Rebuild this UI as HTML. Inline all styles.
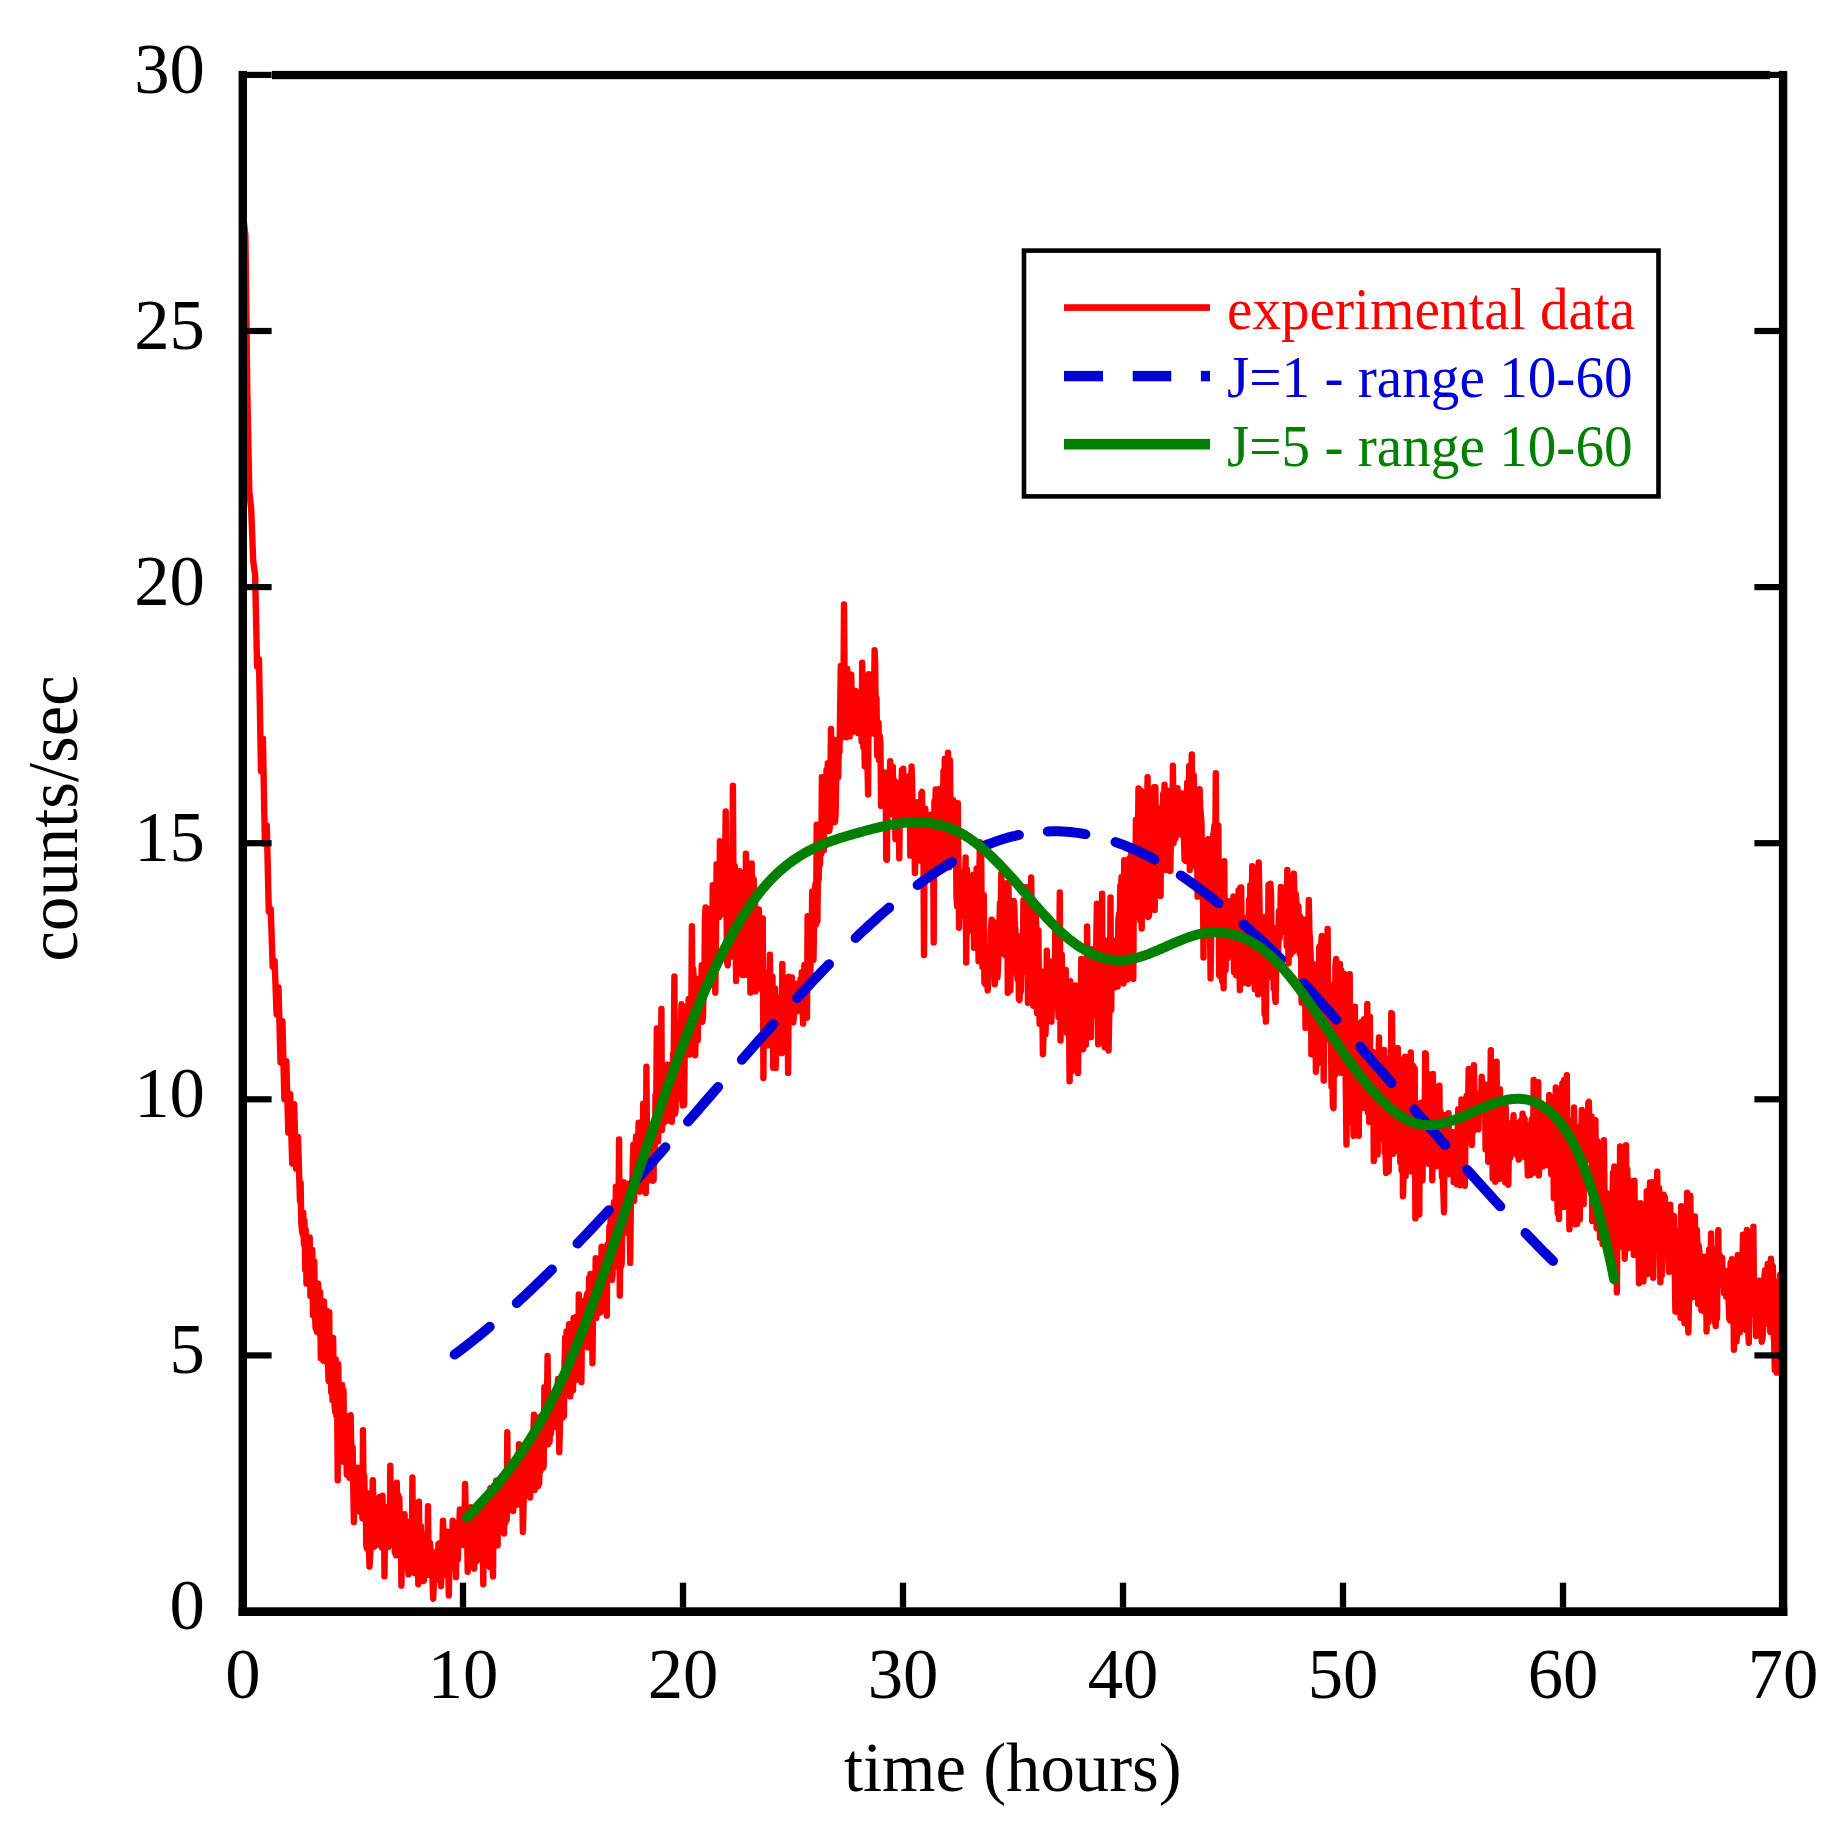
<!DOCTYPE html>
<html><head><meta charset="utf-8"><title>counts/sec vs time (hours)</title>
<style>
html,body{margin:0;padding:0;background:#fff;}
body{width:1842px;height:1833px;overflow:hidden;}
svg{display:block;font-family:"Liberation Serif","Times New Roman",Times,serif;}
</style></head><body>
<svg width="1842" height="1833" viewBox="0 0 1842 1833">
<rect width="1842" height="1833" fill="#fff"/>
<path d="M243.4,218.2 245.4,235.6 247.3,391.2 249.3,491.4 251.2,509.4 253.2,561.2 255.1,574.8 257.1,666.7 259.0,659.1 261.0,771.1 262.9,738.6 264.9,844.0 266.8,825.5 268.8,911.6 270.7,908.8 272.7,966.7 274.6,960.7 276.6,1014.3 278.5,987.5 280.5,1062.5 282.4,1021.3 284.4,1099.1 286.3,1061.1 288.3,1132.6 290.2,1094.1 292.2,1163.5 294.1,1104.2 296.1,1168.6 298.0,1136.9 300.0,1201.1 300.6,1182.9 301.3,1222.9 301.9,1229.8 302.6,1234.2 303.2,1212.8 303.9,1244.4 304.5,1220.6 305.2,1269.7 305.8,1230.0 306.5,1283.6 307.1,1240.1 307.8,1281.0 308.4,1253.0 309.1,1284.2 309.7,1237.4 310.4,1295.9 311.0,1261.3 311.7,1295.8 312.3,1250.0 313.0,1315.3 313.6,1262.0 314.3,1261.3 314.9,1311.1 315.6,1328.0 316.2,1290.1 316.9,1331.8 317.5,1290.6 318.2,1283.7 318.8,1298.7 319.5,1334.3 320.1,1292.0 320.8,1358.3 321.4,1307.2 322.1,1341.2 322.7,1317.9 323.4,1360.6 324.0,1301.5 324.7,1350.0 325.3,1359.6 326.0,1358.2 326.6,1310.8 327.3,1363.2 327.9,1362.2 328.6,1381.0 329.2,1312.2 329.9,1381.2 330.5,1341.0 331.2,1392.1 331.8,1338.1 332.5,1400.2 333.1,1338.0 333.8,1384.2 334.4,1403.3 335.1,1411.7 335.7,1359.4 336.4,1415.7 337.0,1375.4 337.7,1480.2 338.3,1364.1 339.0,1428.2 339.6,1388.3 340.3,1424.3 340.9,1399.2 341.6,1446.0 342.2,1385.2 342.9,1461.6 343.5,1390.1 344.2,1447.6 344.8,1415.4 345.5,1449.6 346.1,1415.9 346.8,1474.7 347.4,1416.2 348.1,1463.4 348.7,1437.1 349.4,1477.7 350.0,1426.1 350.7,1415.3 351.3,1446.6 352.0,1474.2 352.6,1447.1 353.3,1488.8 353.9,1522.1 354.6,1482.7 355.2,1467.3 355.9,1470.5 356.5,1470.7 357.2,1498.3 357.8,1467.7 358.5,1498.2 359.1,1476.0 359.8,1500.2 360.4,1512.4 361.1,1480.1 361.7,1488.9 362.4,1518.2 363.0,1430.3 363.7,1513.1 364.3,1476.0 365.0,1518.6 365.6,1496.9 366.3,1545.6 366.9,1548.6 367.6,1530.4 368.2,1493.4 368.9,1546.7 369.5,1566.6 370.2,1553.8 370.8,1549.2 371.5,1538.7 372.1,1505.0 372.8,1480.1 373.4,1502.3 374.1,1546.8 374.7,1500.0 375.4,1537.7 376.0,1516.9 376.7,1536.5 377.3,1505.3 378.0,1544.5 378.6,1500.4 379.3,1497.1 379.9,1538.4 380.6,1543.5 381.2,1513.0 381.9,1547.5 382.5,1495.8 383.2,1548.4 383.8,1514.7 384.5,1576.4 385.1,1513.0 385.8,1546.1 386.4,1516.0 387.1,1545.6 387.7,1507.0 388.4,1547.1 389.0,1544.7 389.7,1544.6 390.3,1465.7 391.0,1533.9 391.6,1495.4 392.3,1544.7 392.9,1495.8 393.6,1503.0 394.2,1509.0 394.9,1552.7 395.5,1549.5 396.2,1555.3 396.8,1482.7 397.5,1554.3 398.1,1495.1 398.8,1546.8 399.4,1498.1 400.1,1556.1 400.7,1520.7 401.4,1585.6 402.0,1549.1 402.7,1553.1 403.3,1516.1 404.0,1519.9 404.6,1514.2 405.3,1563.8 405.9,1533.6 406.6,1556.1 407.2,1521.6 407.9,1566.8 408.5,1574.4 409.2,1565.4 409.8,1540.2 410.5,1563.6 411.1,1523.6 411.8,1557.2 412.4,1477.4 413.1,1564.3 413.7,1524.5 414.4,1573.0 415.0,1542.5 415.7,1568.8 416.3,1527.8 417.0,1562.2 417.6,1531.7 418.3,1584.3 418.9,1501.7 419.6,1564.3 420.2,1563.8 420.9,1526.3 421.5,1542.1 422.2,1567.3 422.8,1539.1 423.5,1581.0 424.1,1580.2 424.8,1539.4 425.4,1535.2 426.1,1565.5 426.7,1541.4 427.4,1567.1 428.0,1506.2 428.7,1574.7 429.3,1553.5 430.0,1542.9 430.6,1549.7 431.3,1574.5 431.9,1557.3 432.6,1582.3 433.2,1598.7 433.9,1582.1 434.5,1560.7 435.2,1579.2 435.8,1556.3 436.5,1575.9 437.1,1550.9 437.8,1579.3 438.4,1544.1 439.1,1568.5 439.7,1543.3 440.4,1566.6 441.0,1586.2 441.7,1567.5 442.3,1548.9 443.0,1520.6 443.6,1542.9 444.3,1544.8 444.9,1536.9 445.6,1575.0 446.2,1568.7 446.9,1568.4 447.5,1531.7 448.2,1560.9 448.8,1595.4 449.5,1557.6 450.1,1541.2 450.8,1567.8 451.4,1537.7 452.1,1556.9 452.7,1520.6 453.4,1551.9 454.0,1529.5 454.7,1554.0 455.3,1532.8 456.0,1577.1 456.6,1524.7 457.3,1528.8 457.9,1559.5 458.6,1522.4 459.2,1527.5 459.9,1509.5 460.5,1519.2 461.2,1542.2 461.8,1520.9 462.5,1545.1 463.1,1524.7 463.8,1520.0 464.4,1523.0 465.1,1484.0 465.7,1512.1 466.4,1544.2 467.0,1525.0 467.7,1571.8 468.3,1520.6 469.0,1544.9 469.6,1513.6 470.3,1562.3 470.9,1507.2 471.6,1551.9 472.2,1508.2 472.9,1560.7 473.5,1512.2 474.2,1568.6 474.8,1518.2 475.5,1560.6 476.1,1514.1 476.8,1561.0 477.4,1507.3 478.1,1545.0 478.7,1503.5 479.4,1544.8 480.0,1514.9 480.7,1510.0 481.3,1502.2 482.0,1545.5 482.6,1506.4 483.3,1584.3 483.9,1522.3 484.6,1515.7 485.2,1561.7 485.9,1546.6 486.5,1498.0 487.2,1545.9 487.8,1548.8 488.5,1512.5 489.1,1517.6 489.8,1567.0 490.4,1488.2 491.1,1563.4 491.7,1510.4 492.4,1557.9 493.0,1576.4 493.7,1504.9 494.3,1492.0 495.0,1531.3 495.6,1507.1 496.3,1480.7 496.9,1497.7 497.6,1545.4 498.2,1493.6 498.9,1523.8 499.5,1490.1 500.2,1522.7 500.8,1519.5 501.5,1517.2 502.1,1488.2 502.8,1518.3 503.4,1487.8 504.1,1533.5 504.7,1473.3 505.4,1522.5 506.0,1485.7 506.7,1520.0 507.3,1432.3 508.0,1511.1 508.6,1481.7 509.3,1501.6 509.9,1503.8 510.6,1499.6 511.2,1510.1 511.9,1499.7 512.5,1467.8 513.2,1511.0 513.8,1467.4 514.5,1491.2 515.1,1471.6 515.8,1505.3 516.4,1474.3 517.1,1491.4 517.7,1463.6 518.4,1504.2 519.0,1444.1 519.7,1501.4 520.3,1459.0 521.0,1493.4 521.6,1470.4 522.3,1499.2 522.9,1531.9 523.6,1503.4 524.2,1488.3 524.9,1486.7 525.5,1445.0 526.2,1488.5 526.8,1454.9 527.5,1464.5 528.1,1440.5 528.8,1481.1 529.4,1494.4 530.1,1497.6 530.7,1453.1 531.4,1475.6 532.0,1454.8 532.7,1473.5 533.3,1435.4 534.0,1414.6 534.6,1490.0 535.3,1480.9 535.9,1434.0 536.6,1467.7 537.2,1440.2 537.9,1486.1 538.5,1417.4 539.2,1483.5 539.8,1419.4 540.5,1471.1 541.1,1457.5 541.8,1453.8 542.4,1415.1 543.1,1467.9 543.7,1465.8 544.4,1387.1 545.0,1423.2 545.7,1442.6 546.3,1419.7 547.0,1399.5 547.6,1355.9 548.3,1444.3 548.9,1410.4 549.6,1441.6 550.2,1403.1 550.9,1433.8 551.5,1426.9 552.2,1427.4 552.8,1402.6 553.5,1414.9 554.1,1396.9 554.8,1426.5 555.4,1426.7 556.1,1422.1 556.7,1388.2 557.4,1410.1 558.0,1378.9 558.7,1418.9 559.3,1452.1 560.0,1421.8 560.6,1409.0 561.3,1415.7 561.9,1377.0 562.6,1417.8 563.2,1386.1 563.9,1416.0 564.5,1366.6 565.2,1337.1 565.8,1394.8 566.5,1331.4 567.1,1355.7 567.8,1384.2 568.4,1358.5 569.1,1324.3 569.7,1336.8 570.4,1396.4 571.0,1381.6 571.7,1372.0 572.3,1339.9 573.0,1390.2 573.6,1317.9 574.3,1364.7 574.9,1347.9 575.6,1380.3 576.2,1317.0 576.9,1358.1 577.5,1321.9 578.2,1376.5 578.8,1294.4 579.5,1335.2 580.1,1373.8 580.8,1365.6 581.4,1382.1 582.1,1312.3 582.7,1328.9 583.4,1301.0 584.0,1343.3 584.7,1322.7 585.3,1330.4 586.0,1317.2 586.6,1296.2 587.3,1293.4 587.9,1347.4 588.6,1300.7 589.2,1277.8 589.9,1311.9 590.5,1274.0 591.2,1342.7 591.8,1275.6 592.5,1363.3 593.1,1295.8 593.8,1281.7 594.4,1283.3 595.1,1302.6 595.7,1258.1 596.4,1317.9 597.0,1283.3 597.7,1305.6 598.3,1282.2 599.0,1272.7 599.6,1288.0 600.3,1312.5 600.9,1287.9 601.6,1246.6 602.2,1274.0 602.9,1250.5 603.5,1288.6 604.2,1296.6 604.8,1282.2 605.5,1292.7 606.1,1273.6 606.8,1315.6 607.4,1244.7 608.1,1253.3 608.7,1275.3 609.4,1226.7 610.0,1259.9 610.7,1212.1 611.3,1264.8 612.0,1279.9 612.6,1273.9 613.3,1251.5 613.9,1202.2 614.6,1267.0 615.2,1236.2 615.9,1186.6 616.5,1246.8 617.2,1195.0 617.8,1198.3 618.5,1214.0 619.1,1139.5 619.8,1295.6 620.4,1232.5 621.1,1266.8 621.7,1263.2 622.4,1216.8 623.0,1211.2 623.7,1182.1 624.3,1195.3 625.0,1223.2 625.6,1220.5 626.3,1211.0 626.9,1232.7 627.6,1183.7 628.2,1200.9 628.9,1219.9 629.5,1214.1 630.2,1262.9 630.8,1205.3 631.5,1184.6 632.1,1200.6 632.8,1162.3 633.4,1144.8 634.1,1200.7 634.7,1181.8 635.4,1162.7 636.0,1136.5 636.7,1167.7 637.3,1159.5 638.0,1150.5 638.6,1122.8 639.3,1160.7 639.9,1191.7 640.6,1175.9 641.2,1147.8 641.9,1161.5 642.5,1180.1 643.2,1103.7 643.8,1152.7 644.5,1168.6 645.1,1170.3 645.8,1193.1 646.4,1066.8 647.1,1154.6 647.7,1152.4 648.4,1163.4 649.0,1126.1 649.7,1137.4 650.3,1160.7 651.0,1180.3 651.6,1128.4 652.3,1129.4 652.9,1180.8 653.6,1180.1 654.2,1124.1 654.9,1162.1 655.5,1095.2 656.2,1114.2 656.8,1028.4 657.5,1136.4 658.1,1141.4 658.8,1071.4 659.4,1085.4 660.1,1116.9 660.7,1088.5 661.4,1009.0 662.0,1130.1 662.7,1113.7 663.3,1111.8 664.0,1084.1 664.6,1122.3 665.3,1086.6 665.9,1120.4 666.6,1065.0 667.2,1064.7 667.9,1091.0 668.5,1065.0 669.2,1099.9 669.8,1086.9 670.5,1121.2 671.1,1078.2 671.8,1121.8 672.4,1097.0 673.1,1053.8 673.7,1057.1 674.4,976.4 675.0,1113.8 675.7,1109.4 676.3,1063.1 677.0,1065.4 677.6,1098.6 678.3,1052.6 678.9,1028.0 679.6,1055.3 680.2,1062.4 680.9,1026.4 681.5,1004.3 682.2,1006.5 682.8,1105.5 683.5,1020.8 684.1,1104.9 684.8,1043.0 685.4,1052.0 686.1,1024.7 686.7,1045.1 687.4,1006.2 688.0,1018.5 688.7,998.9 689.3,1054.6 690.0,1021.8 690.6,1000.9 691.3,1008.8 691.9,926.2 692.6,1031.9 693.2,968.9 693.9,980.6 694.5,995.8 695.2,1055.2 695.8,1026.4 696.5,995.5 697.1,1015.0 697.8,1040.3 698.4,984.8 699.1,978.8 699.7,1018.5 700.4,996.9 701.0,999.2 701.7,965.3 702.3,1021.7 703.0,1017.0 703.6,986.6 704.3,987.3 704.9,920.2 705.6,907.4 706.2,956.6 706.9,970.9 707.5,975.1 708.2,945.3 708.8,909.2 709.5,959.4 710.1,927.4 710.8,935.9 711.4,926.1 712.1,985.1 712.7,885.2 713.4,973.3 714.0,942.9 714.7,970.6 715.3,992.6 716.0,929.7 716.6,864.3 717.3,889.0 717.9,873.4 718.6,897.2 719.2,917.0 719.9,841.2 720.5,842.2 721.2,842.2 721.8,914.3 722.5,894.1 723.1,882.2 723.8,889.6 724.4,865.8 725.1,859.2 725.7,811.4 726.4,884.7 727.0,962.0 727.7,965.3 728.3,948.7 729.0,923.3 729.6,865.8 730.3,957.0 730.9,895.7 731.6,896.9 732.2,889.6 732.9,785.7 733.5,887.6 734.2,903.2 734.8,866.3 735.5,895.7 736.1,980.9 736.8,908.7 737.4,902.8 738.1,932.6 738.7,939.8 739.4,871.1 740.0,906.1 740.7,949.4 741.3,925.3 742.0,920.2 742.6,975.0 743.3,890.8 743.9,920.2 744.6,897.8 745.2,974.8 745.9,853.6 746.5,893.7 747.2,899.6 747.8,945.4 748.5,944.1 749.1,974.6 749.8,868.1 750.4,992.6 751.1,918.0 751.7,863.5 752.4,949.7 753.0,903.5 753.7,879.2 754.3,925.5 755.0,893.2 755.6,991.4 756.3,953.0 756.9,952.8 757.6,988.7 758.2,942.2 758.9,909.5 759.5,932.0 760.2,930.3 760.8,925.6 761.5,970.0 762.1,945.8 762.8,918.4 763.4,1077.9 764.1,972.3 764.7,991.8 765.4,987.9 766.0,1011.3 766.7,994.2 767.3,1045.3 768.0,1018.4 768.6,1020.4 769.3,1022.9 769.9,954.8 770.6,1005.8 771.2,1005.2 771.9,1023.2 772.5,976.6 773.2,1067.8 773.8,1026.5 774.5,994.1 775.1,988.5 775.8,1067.9 776.4,1026.4 777.1,1009.1 777.7,1025.1 778.4,1005.3 779.0,1030.4 779.7,997.8 780.3,1011.2 781.0,1032.5 781.6,1053.1 782.3,963.9 782.9,995.7 783.6,988.4 784.2,1029.6 784.9,984.2 785.5,1002.2 786.2,1015.2 786.8,993.3 787.5,995.5 788.1,1072.9 788.8,976.8 789.4,984.2 790.1,1007.5 790.7,1018.4 791.4,1009.2 792.0,977.4 792.7,1000.1 793.3,1022.4 794.0,1015.4 794.6,1002.1 795.3,987.0 795.9,1009.3 796.6,989.2 797.2,1011.4 797.9,983.4 798.5,1009.6 799.2,993.2 799.8,1006.2 800.5,979.1 801.1,1002.4 801.8,972.2 802.4,979.0 803.1,1023.6 803.7,997.3 804.4,965.0 805.0,973.7 805.7,983.6 806.3,1008.4 807.0,1017.7 807.6,916.1 808.3,951.8 808.9,954.6 809.6,951.2 810.2,980.8 810.9,944.8 811.5,952.8 812.2,891.4 812.8,941.3 813.5,960.0 814.1,922.8 814.8,897.3 815.4,883.9 816.1,924.6 816.7,824.7 817.4,921.1 818.0,867.2 818.7,880.2 819.3,832.3 820.0,865.0 820.6,839.7 821.3,853.6 821.9,777.1 822.6,788.5 823.2,824.4 823.9,850.1 824.5,783.9 825.2,803.2 825.8,826.3 826.5,770.0 827.1,801.7 827.8,763.3 828.4,816.3 829.1,831.1 829.7,827.9 830.4,776.3 831.0,728.9 831.7,783.2 832.3,822.3 833.0,821.1 833.6,739.4 834.3,806.2 834.9,822.0 835.6,815.5 836.2,778.3 836.9,751.1 837.5,772.2 838.2,777.3 838.8,747.2 839.5,752.2 840.1,712.8 840.8,666.0 841.4,738.1 842.1,726.1 842.7,709.6 843.4,707.3 844.0,604.5 844.7,692.5 845.3,685.9 846.0,700.3 846.6,737.2 847.3,669.0 847.9,736.3 848.6,689.3 849.2,678.2 849.9,736.4 850.5,703.2 851.2,674.6 851.8,696.9 852.5,726.4 853.1,731.8 853.8,695.4 854.4,713.6 855.1,719.8 855.7,691.0 856.4,711.6 857.0,703.6 857.7,693.5 858.3,733.1 859.0,706.7 859.6,707.1 860.3,693.3 860.9,697.2 861.6,741.5 862.2,662.6 862.9,738.3 863.5,748.1 864.2,730.6 864.8,766.4 865.5,692.7 866.1,738.2 866.8,708.9 867.4,761.3 868.1,794.5 868.7,674.3 869.4,691.6 870.0,731.9 870.7,733.9 871.3,731.3 872.0,708.9 872.6,721.3 873.3,725.3 873.9,704.5 874.6,650.3 875.2,663.2 875.9,734.7 876.5,698.3 877.2,755.6 877.8,732.3 878.5,722.7 879.1,760.1 879.8,736.0 880.4,742.9 881.1,805.9 881.7,771.9 882.4,785.5 883.0,799.7 883.7,772.3 884.3,803.6 885.0,778.5 885.6,776.7 886.3,859.6 886.9,859.9 887.6,772.9 888.2,776.4 888.9,779.5 889.5,786.9 890.2,761.3 890.8,814.0 891.5,776.5 892.1,800.4 892.8,766.8 893.4,799.2 894.1,800.9 894.7,780.9 895.4,839.0 896.0,804.8 896.7,839.0 897.3,822.9 898.0,783.4 898.6,792.1 899.3,858.3 899.9,806.5 900.6,807.8 901.2,801.3 901.9,770.2 902.5,805.9 903.2,768.7 903.8,821.4 904.5,795.9 905.1,796.8 905.8,809.2 906.4,821.5 907.1,781.8 907.7,777.8 908.4,791.7 909.0,776.3 909.7,795.3 910.3,855.6 911.0,794.5 911.6,766.5 912.3,788.4 912.9,827.7 913.6,813.8 914.2,820.3 914.9,873.0 915.5,859.4 916.2,827.3 916.8,826.2 917.5,802.2 918.1,837.1 918.8,819.3 919.4,843.2 920.1,824.6 920.7,860.8 921.4,793.2 922.0,791.9 922.7,848.7 923.3,824.5 924.0,955.0 924.6,829.7 925.3,808.6 925.9,841.1 926.6,879.2 927.2,865.3 927.9,821.5 928.5,828.1 929.2,839.2 929.8,868.8 930.5,814.6 931.1,814.8 931.8,863.0 932.4,860.8 933.1,832.3 933.7,942.4 934.4,801.5 935.0,817.9 935.7,789.5 936.3,846.8 937.0,812.0 937.6,836.5 938.3,863.9 938.9,849.7 939.6,788.9 940.2,839.2 940.9,848.3 941.5,796.9 942.2,790.7 942.8,815.4 943.5,771.0 944.1,866.3 944.8,758.6 945.4,783.6 946.1,812.0 946.7,813.8 947.4,828.4 948.0,752.6 948.7,815.8 949.3,867.2 950.0,760.5 950.6,827.3 951.3,802.7 951.9,834.4 952.6,838.7 953.2,800.1 953.9,811.0 954.5,861.6 955.2,847.4 955.8,813.8 956.5,896.5 957.1,906.3 957.8,803.1 958.4,867.8 959.1,927.7 959.7,896.5 960.4,884.7 961.0,877.4 961.7,872.0 962.3,883.5 963.0,873.8 963.6,915.9 964.3,880.7 964.9,880.4 965.6,857.5 966.2,962.5 966.9,869.4 967.5,892.6 968.2,931.2 968.8,911.3 969.5,916.5 970.1,912.9 970.8,904.8 971.4,900.2 972.1,895.7 972.7,928.7 973.4,874.6 974.0,947.7 974.7,910.2 975.3,886.2 976.0,895.2 976.6,868.5 977.3,920.0 977.9,888.3 978.6,961.3 979.2,886.2 979.9,842.1 980.5,892.0 981.2,857.6 981.8,926.1 982.5,967.3 983.1,954.7 983.8,895.3 984.4,982.6 985.1,984.0 985.7,953.2 986.4,948.3 987.0,972.3 987.7,990.4 988.3,976.0 989.0,949.6 989.6,953.5 990.3,958.5 990.9,930.5 991.6,919.8 992.2,943.6 992.9,921.1 993.5,940.8 994.2,944.4 994.8,984.2 995.5,923.4 996.1,939.9 996.8,977.6 997.4,977.7 998.1,966.8 998.7,931.8 999.4,923.7 1000.0,903.0 1000.7,917.4 1001.3,873.7 1002.0,908.7 1002.6,908.8 1003.3,927.1 1003.9,939.3 1004.6,954.9 1005.2,916.2 1005.9,929.6 1006.5,883.2 1007.2,902.3 1007.8,992.7 1008.5,885.5 1009.1,933.3 1009.8,951.5 1010.4,990.3 1011.1,923.8 1011.7,946.4 1012.4,948.4 1013.0,946.6 1013.7,901.0 1014.3,906.2 1015.0,925.2 1015.6,934.5 1016.3,957.9 1016.9,970.9 1017.6,979.3 1018.2,936.1 1018.9,999.0 1019.5,1000.1 1020.2,984.4 1020.8,991.8 1021.5,942.5 1022.1,940.7 1022.8,972.0 1023.4,900.3 1024.1,950.5 1024.7,925.4 1025.4,929.8 1026.0,887.1 1026.7,910.5 1027.3,938.8 1028.0,1002.8 1028.6,971.6 1029.3,934.2 1029.9,929.6 1030.6,908.9 1031.2,877.5 1031.9,936.0 1032.5,968.2 1033.2,1005.7 1033.8,953.4 1034.5,908.5 1035.1,933.1 1035.8,917.3 1036.4,929.5 1037.1,1013.1 1037.7,982.0 1038.4,930.4 1039.0,1001.9 1039.7,1023.9 1040.3,977.3 1041.0,971.2 1041.6,984.9 1042.3,1006.9 1042.9,1054.2 1043.6,1034.0 1044.2,1033.3 1044.9,1030.9 1045.5,1034.4 1046.2,1013.0 1046.8,950.8 1047.5,988.4 1048.1,999.3 1048.8,979.3 1049.4,1012.5 1050.1,977.6 1050.7,961.8 1051.4,1021.6 1052.0,1000.2 1052.7,987.6 1053.3,1003.8 1054.0,1005.6 1054.6,986.7 1055.3,931.6 1055.9,962.1 1056.6,968.7 1057.2,956.3 1057.9,988.6 1058.5,1017.3 1059.2,972.9 1059.8,892.5 1060.5,1040.6 1061.1,977.6 1061.8,954.8 1062.4,1001.7 1063.1,1029.1 1063.7,974.2 1064.4,1025.4 1065.0,983.8 1065.7,969.9 1066.3,1009.9 1067.0,1033.1 1067.6,983.3 1068.3,1019.3 1068.9,1003.5 1069.6,1081.2 1070.2,981.2 1070.9,1055.3 1071.5,1071.8 1072.2,1001.6 1072.8,1030.4 1073.5,1035.8 1074.1,1047.7 1074.8,1016.0 1075.4,985.4 1076.1,987.4 1076.7,1020.8 1077.4,1022.7 1078.0,1073.1 1078.7,1016.8 1079.3,1035.9 1080.0,1049.0 1080.6,1008.2 1081.3,958.9 1081.9,967.5 1082.6,959.5 1083.2,1049.2 1083.9,975.8 1084.5,1035.3 1085.2,1016.0 1085.8,1044.8 1086.5,1026.5 1087.1,926.4 1087.8,991.2 1088.4,998.7 1089.1,1000.6 1089.7,980.3 1090.4,1032.9 1091.0,1037.2 1091.7,949.2 1092.3,999.8 1093.0,967.6 1093.6,997.4 1094.3,1015.6 1094.9,990.8 1095.6,1014.4 1096.2,947.6 1096.9,903.8 1097.5,975.0 1098.2,1044.2 1098.8,998.2 1099.5,933.6 1100.1,969.9 1100.8,999.8 1101.4,1041.3 1102.1,893.8 1102.7,1001.3 1103.4,948.0 1104.0,1039.5 1104.7,1047.3 1105.3,994.4 1106.0,985.0 1106.6,940.8 1107.3,1015.1 1107.9,1045.6 1108.6,1050.5 1109.2,1017.4 1109.9,995.2 1110.5,897.5 1111.2,1009.9 1111.8,946.0 1112.5,968.5 1113.1,977.5 1113.8,987.8 1114.4,975.9 1115.1,973.1 1115.7,950.3 1116.4,940.3 1117.0,960.4 1117.7,986.5 1118.3,920.8 1119.0,914.0 1119.6,928.4 1120.3,885.7 1120.9,889.7 1121.6,876.9 1122.2,933.5 1122.9,938.2 1123.5,983.5 1124.2,860.3 1124.8,889.6 1125.5,950.5 1126.1,906.4 1126.8,901.7 1127.4,979.5 1128.1,900.3 1128.7,866.0 1129.4,858.3 1130.0,927.7 1130.7,925.8 1131.3,850.8 1132.0,864.3 1132.6,925.0 1133.3,979.0 1133.9,869.3 1134.6,917.9 1135.2,912.2 1135.9,819.6 1136.5,869.8 1137.2,895.3 1137.8,853.1 1138.5,788.4 1139.1,857.9 1139.8,894.1 1140.4,921.0 1141.1,791.0 1141.7,928.5 1142.4,810.4 1143.0,883.3 1143.7,892.3 1144.3,882.6 1145.0,852.2 1145.6,805.0 1146.3,868.3 1146.9,820.4 1147.6,777.1 1148.2,917.0 1148.9,916.2 1149.5,901.5 1150.2,812.3 1150.8,893.6 1151.5,896.3 1152.1,895.2 1152.8,841.4 1153.4,801.3 1154.1,787.1 1154.7,909.9 1155.4,787.3 1156.0,842.9 1156.7,806.8 1157.3,832.8 1158.0,833.7 1158.6,889.8 1159.3,875.7 1159.9,833.1 1160.6,896.1 1161.2,809.2 1161.9,821.7 1162.5,857.5 1163.2,793.9 1163.8,821.0 1164.5,784.6 1165.1,830.4 1165.8,870.0 1166.4,804.8 1167.1,830.5 1167.7,799.7 1168.4,792.7 1169.0,790.9 1169.7,860.5 1170.3,871.0 1171.0,835.5 1171.6,805.6 1172.3,841.0 1172.9,765.8 1173.6,843.2 1174.2,831.0 1174.9,830.8 1175.5,838.5 1176.2,811.0 1176.8,815.3 1177.5,788.1 1178.1,814.9 1178.8,793.5 1179.4,821.9 1180.1,804.5 1180.7,827.5 1181.4,834.6 1182.0,793.4 1182.7,805.7 1183.3,801.9 1184.0,839.9 1184.6,859.9 1185.3,841.9 1185.9,861.0 1186.6,856.4 1187.2,782.7 1187.9,857.2 1188.5,802.4 1189.2,766.0 1189.8,870.1 1190.5,858.9 1191.1,789.4 1191.8,754.5 1192.4,810.1 1193.1,818.3 1193.7,775.2 1194.4,800.8 1195.0,837.6 1195.7,833.8 1196.3,867.2 1197.0,836.0 1197.6,896.6 1198.3,816.7 1198.9,851.9 1199.6,789.2 1200.2,806.7 1200.9,816.0 1201.5,822.7 1202.2,878.8 1202.8,860.5 1203.5,957.6 1204.1,856.0 1204.8,852.6 1205.4,856.6 1206.1,908.3 1206.7,905.4 1207.4,854.1 1208.0,839.2 1208.7,892.2 1209.3,875.1 1210.0,929.3 1210.6,978.4 1211.3,923.3 1211.9,879.2 1212.6,872.2 1213.2,835.1 1213.9,831.5 1214.5,825.2 1215.2,859.6 1215.8,773.3 1216.5,928.2 1217.1,864.2 1217.8,877.9 1218.4,825.6 1219.1,975.1 1219.7,920.3 1220.4,976.8 1221.0,936.2 1221.7,968.4 1222.3,981.5 1223.0,935.0 1223.6,988.3 1224.3,861.3 1224.9,954.6 1225.6,970.1 1226.2,929.2 1226.9,941.6 1227.5,958.2 1228.2,901.3 1228.8,934.3 1229.5,901.9 1230.1,910.1 1230.8,914.6 1231.4,926.4 1232.1,933.3 1232.7,940.8 1233.4,896.5 1234.0,972.0 1234.7,959.5 1235.3,949.4 1236.0,975.2 1236.6,929.4 1237.3,946.3 1237.9,943.1 1238.6,890.1 1239.2,952.9 1239.9,990.1 1240.5,887.4 1241.2,887.5 1241.8,944.4 1242.5,930.8 1243.1,974.6 1243.8,982.7 1244.4,938.9 1245.1,979.0 1245.7,926.9 1246.4,919.2 1247.0,936.2 1247.7,917.0 1248.3,983.7 1249.0,899.6 1249.6,961.8 1250.3,885.2 1250.9,954.6 1251.6,925.7 1252.2,866.2 1252.9,928.6 1253.5,886.6 1254.2,910.4 1254.8,989.2 1255.5,881.4 1256.1,882.9 1256.8,988.4 1257.4,934.3 1258.1,994.4 1258.7,862.4 1259.4,896.0 1260.0,931.5 1260.7,987.3 1261.3,976.4 1262.0,937.9 1262.6,941.2 1263.3,935.5 1263.9,916.9 1264.6,1014.1 1265.2,944.2 1265.9,1021.6 1266.5,925.9 1267.2,978.6 1267.8,976.2 1268.5,885.0 1269.1,921.2 1269.8,949.7 1270.4,883.7 1271.1,895.0 1271.7,977.6 1272.4,927.0 1273.0,958.8 1273.7,988.8 1274.3,966.5 1275.0,996.5 1275.6,1002.0 1276.3,963.1 1276.9,928.1 1277.6,962.5 1278.2,951.0 1278.9,911.1 1279.5,938.7 1280.2,930.9 1280.8,887.0 1281.5,929.3 1282.1,925.5 1282.8,920.4 1283.4,888.1 1284.1,921.3 1284.7,929.4 1285.4,932.7 1286.0,897.1 1286.7,946.3 1287.3,869.9 1288.0,920.6 1288.6,963.3 1289.3,905.8 1289.9,910.3 1290.6,954.8 1291.2,912.4 1291.9,914.2 1292.5,928.3 1293.2,951.4 1293.8,873.7 1294.5,898.8 1295.1,895.0 1295.8,894.2 1296.4,902.8 1297.1,904.9 1297.7,943.5 1298.4,906.5 1299.0,942.1 1299.7,953.8 1300.3,916.8 1301.0,948.9 1301.6,1002.6 1302.3,960.3 1302.9,927.0 1303.6,950.3 1304.2,919.8 1304.9,967.5 1305.5,1027.9 1306.2,928.4 1306.8,955.2 1307.5,1011.1 1308.1,948.2 1308.8,900.0 1309.4,931.3 1310.1,942.0 1310.7,957.0 1311.4,1054.2 1312.0,966.3 1312.7,963.7 1313.3,964.7 1314.0,983.5 1314.6,1020.3 1315.3,1003.3 1315.9,1071.7 1316.6,1009.2 1317.2,1064.2 1317.9,1016.9 1318.5,1033.5 1319.2,947.0 1319.8,1005.0 1320.5,1008.7 1321.1,944.0 1321.8,936.0 1322.4,1053.9 1323.1,999.6 1323.7,1080.6 1324.4,1007.8 1325.0,1010.2 1325.7,1039.7 1326.3,966.2 1327.0,982.5 1327.6,928.9 1328.3,1033.1 1328.9,1010.8 1329.6,1003.1 1330.2,992.4 1330.9,1028.8 1331.5,1086.6 1332.2,984.6 1332.8,1105.9 1333.5,1108.2 1334.1,1014.8 1334.8,1075.5 1335.4,966.5 1336.1,958.9 1336.7,975.7 1337.4,1020.6 1338.0,1025.7 1338.7,1016.6 1339.3,1049.5 1340.0,964.0 1340.6,1072.8 1341.3,970.4 1341.9,1012.1 1342.6,1026.4 1343.2,985.6 1343.9,973.8 1344.5,996.2 1345.2,1052.6 1345.8,1086.2 1346.5,1144.6 1347.1,1004.1 1347.8,1016.4 1348.4,1011.5 1349.1,1082.0 1349.7,974.3 1350.4,1121.8 1351.0,1039.4 1351.7,1026.7 1352.3,1080.4 1353.0,1112.7 1353.6,1135.8 1354.3,1114.1 1354.9,1006.7 1355.6,1122.0 1356.2,1122.7 1356.9,1067.6 1357.5,1132.1 1358.2,1080.0 1358.8,1135.8 1359.5,1036.3 1360.1,1063.3 1360.8,1108.4 1361.4,1022.0 1362.1,1104.6 1362.7,1092.7 1363.4,1090.5 1364.0,1019.2 1364.7,1076.0 1365.3,1108.2 1366.0,1049.7 1366.6,1086.2 1367.3,1004.0 1367.9,1112.2 1368.6,1056.7 1369.2,1122.0 1369.9,1016.6 1370.5,1115.3 1371.2,1077.8 1371.8,1120.9 1372.5,1051.8 1373.1,1065.0 1373.8,1160.9 1374.4,1058.7 1375.1,1064.5 1375.7,1081.9 1376.4,1054.6 1377.0,1138.4 1377.7,1154.5 1378.3,1069.6 1379.0,1037.4 1379.6,1138.7 1380.3,1136.7 1380.9,1127.0 1381.6,1139.0 1382.2,1069.1 1382.9,1094.2 1383.5,1051.0 1384.2,1049.8 1384.8,1152.6 1385.5,1152.1 1386.1,1172.9 1386.8,1106.9 1387.4,1080.0 1388.1,1136.5 1388.7,1171.2 1389.4,1126.1 1390.0,1058.2 1390.7,1123.1 1391.3,1013.0 1392.0,1013.5 1392.6,1077.4 1393.3,1153.8 1393.9,1117.2 1394.6,1065.3 1395.2,1097.8 1395.9,1083.5 1396.5,1129.5 1397.2,1050.2 1397.8,1048.1 1398.5,1150.9 1399.1,1058.9 1399.8,1141.2 1400.4,1162.6 1401.1,1146.0 1401.7,1170.5 1402.4,1108.4 1403.0,1196.2 1403.7,1169.8 1404.3,1088.0 1405.0,1056.8 1405.6,1176.3 1406.3,1101.1 1406.9,1119.5 1407.6,1071.8 1408.2,1075.2 1408.9,1083.1 1409.5,1119.1 1410.2,1152.7 1410.8,1052.5 1411.5,1171.5 1412.1,1083.5 1412.8,1065.7 1413.4,1170.3 1414.1,1067.4 1414.7,1068.8 1415.4,1218.4 1416.0,1103.1 1416.7,1154.8 1417.3,1153.7 1418.0,1208.7 1418.6,1126.7 1419.3,1214.5 1419.9,1111.0 1420.6,1181.8 1421.2,1102.8 1421.9,1113.8 1422.5,1180.3 1423.2,1127.3 1423.8,1115.3 1424.5,1160.2 1425.1,1053.1 1425.8,1053.6 1426.4,1122.2 1427.1,1073.2 1427.7,1151.6 1428.4,1163.5 1429.0,1106.9 1429.7,1109.9 1430.3,1148.7 1431.0,1148.4 1431.6,1108.5 1432.3,1180.3 1432.9,1073.9 1433.6,1132.1 1434.2,1132.4 1434.9,1086.8 1435.5,1159.1 1436.2,1097.0 1436.8,1166.2 1437.5,1136.0 1438.1,1119.4 1438.8,1094.9 1439.4,1085.7 1440.1,1155.7 1440.7,1112.3 1441.4,1146.1 1442.0,1177.3 1442.7,1175.7 1443.3,1190.4 1444.0,1212.2 1444.6,1115.1 1445.3,1172.8 1445.9,1153.7 1446.6,1174.2 1447.2,1146.4 1447.9,1174.4 1448.5,1113.2 1449.2,1162.5 1449.8,1157.4 1450.5,1154.7 1451.1,1150.6 1451.8,1150.1 1452.4,1167.5 1453.1,1132.1 1453.7,1182.1 1454.4,1140.8 1455.0,1166.5 1455.7,1140.3 1456.3,1136.1 1457.0,1184.4 1457.6,1133.7 1458.3,1109.2 1458.9,1122.7 1459.6,1132.2 1460.2,1185.2 1460.9,1143.2 1461.5,1099.4 1462.2,1108.9 1462.8,1141.4 1463.5,1147.7 1464.1,1170.7 1464.8,1185.8 1465.4,1140.5 1466.1,1131.1 1466.7,1095.7 1467.4,1119.3 1468.0,1111.3 1468.7,1068.9 1469.3,1129.5 1470.0,1126.2 1470.6,1099.5 1471.3,1074.9 1471.9,1145.0 1472.6,1113.6 1473.2,1132.0 1473.9,1065.1 1474.5,1092.0 1475.2,1125.0 1475.8,1097.9 1476.5,1101.8 1477.1,1100.7 1477.8,1102.2 1478.4,1129.4 1479.1,1104.1 1479.7,1096.6 1480.4,1093.0 1481.0,1107.7 1481.7,1076.6 1482.3,1085.7 1483.0,1096.3 1483.6,1084.1 1484.3,1096.5 1484.9,1084.5 1485.6,1149.4 1486.2,1140.6 1486.9,1117.5 1487.5,1104.1 1488.2,1161.7 1488.8,1118.2 1489.5,1106.7 1490.1,1120.5 1490.8,1050.2 1491.4,1161.1 1492.1,1113.7 1492.7,1178.4 1493.4,1174.4 1494.0,1143.7 1494.7,1081.8 1495.3,1181.7 1496.0,1110.7 1496.6,1061.6 1497.3,1157.5 1497.9,1169.4 1498.6,1092.9 1499.2,1179.0 1499.9,1089.2 1500.5,1138.1 1501.2,1132.6 1501.8,1127.3 1502.5,1119.9 1503.1,1130.1 1503.8,1122.7 1504.4,1157.0 1505.1,1182.2 1505.7,1107.0 1506.4,1144.9 1507.0,1137.6 1507.7,1157.0 1508.3,1184.7 1509.0,1142.2 1509.6,1123.8 1510.3,1157.5 1510.9,1145.3 1511.6,1139.9 1512.2,1148.8 1512.9,1137.4 1513.5,1115.3 1514.2,1150.0 1514.8,1144.4 1515.5,1137.0 1516.1,1152.9 1516.8,1154.9 1517.4,1123.1 1518.1,1127.2 1518.7,1159.6 1519.4,1158.6 1520.0,1127.6 1520.7,1120.7 1521.3,1129.0 1522.0,1131.2 1522.6,1113.7 1523.3,1140.3 1523.9,1117.8 1524.6,1118.7 1525.2,1157.3 1525.9,1128.0 1526.5,1139.7 1527.2,1153.7 1527.8,1175.5 1528.5,1135.0 1529.1,1142.9 1529.8,1124.9 1530.4,1174.8 1531.1,1154.6 1531.7,1119.4 1532.4,1141.3 1533.0,1155.0 1533.7,1080.0 1534.3,1172.6 1535.0,1166.6 1535.6,1130.3 1536.3,1138.6 1536.9,1116.5 1537.6,1144.5 1538.2,1082.3 1538.9,1175.4 1539.5,1141.2 1540.2,1108.5 1540.8,1127.5 1541.5,1142.3 1542.1,1115.7 1542.8,1166.4 1543.4,1134.0 1544.1,1150.6 1544.7,1139.3 1545.4,1121.6 1546.0,1165.1 1546.7,1130.5 1547.3,1131.7 1548.0,1106.1 1548.6,1123.3 1549.3,1094.9 1549.9,1097.4 1550.6,1146.5 1551.2,1174.1 1551.9,1136.8 1552.5,1158.6 1553.2,1109.5 1553.8,1198.0 1554.5,1190.8 1555.1,1158.6 1555.8,1087.4 1556.4,1109.2 1557.1,1187.8 1557.7,1213.4 1558.4,1161.3 1559.0,1219.1 1559.7,1124.4 1560.3,1141.4 1561.0,1149.2 1561.6,1167.1 1562.3,1083.4 1562.9,1189.8 1563.6,1206.9 1564.2,1080.0 1564.9,1093.0 1565.5,1166.9 1566.2,1125.3 1566.8,1075.2 1567.5,1188.3 1568.1,1162.0 1568.8,1137.1 1569.4,1229.3 1570.1,1212.2 1570.7,1129.3 1571.4,1164.2 1572.0,1120.5 1572.7,1132.5 1573.3,1177.7 1574.0,1107.5 1574.6,1147.7 1575.3,1224.3 1575.9,1195.8 1576.6,1192.8 1577.2,1223.7 1577.9,1179.5 1578.5,1213.8 1579.2,1159.9 1579.8,1219.5 1580.5,1125.7 1581.1,1149.7 1581.8,1110.0 1582.4,1145.5 1583.1,1174.5 1583.7,1204.2 1584.4,1133.0 1585.0,1154.9 1585.7,1142.2 1586.3,1129.3 1587.0,1115.5 1587.6,1158.0 1588.3,1103.2 1588.9,1101.7 1589.6,1160.2 1590.2,1138.6 1590.9,1127.9 1591.5,1116.4 1592.2,1220.9 1592.8,1119.9 1593.5,1219.3 1594.1,1188.1 1594.8,1156.4 1595.4,1120.1 1596.1,1207.0 1596.7,1228.2 1597.4,1141.3 1598.0,1164.9 1598.7,1212.7 1599.3,1190.5 1600.0,1238.0 1600.6,1165.1 1601.3,1165.9 1601.9,1148.6 1602.6,1243.9 1603.2,1169.8 1603.9,1140.2 1604.5,1192.3 1605.2,1194.0 1605.8,1247.7 1606.5,1192.9 1607.1,1203.9 1607.8,1222.1 1608.4,1249.0 1609.1,1208.9 1609.7,1238.4 1610.4,1225.6 1611.0,1203.3 1611.7,1214.4 1612.3,1213.3 1613.0,1172.8 1613.6,1252.8 1614.3,1166.4 1614.9,1254.6 1615.6,1248.4 1616.2,1210.9 1616.9,1292.4 1617.5,1206.1 1618.2,1234.4 1618.8,1246.4 1619.5,1228.2 1620.1,1146.4 1620.8,1191.9 1621.4,1226.5 1622.1,1151.4 1622.7,1247.1 1623.4,1222.1 1624.0,1200.2 1624.7,1258.7 1625.3,1240.4 1626.0,1145.2 1626.6,1217.0 1627.3,1169.2 1627.9,1248.1 1628.6,1179.6 1629.2,1200.7 1629.9,1217.2 1630.5,1208.6 1631.2,1223.5 1631.8,1229.8 1632.5,1245.1 1633.1,1194.7 1633.8,1254.9 1634.4,1180.8 1635.1,1228.6 1635.7,1251.0 1636.4,1242.2 1637.0,1204.5 1637.7,1211.7 1638.3,1218.9 1639.0,1283.2 1639.6,1261.3 1640.3,1203.1 1640.9,1248.0 1641.6,1204.8 1642.2,1253.7 1642.9,1253.0 1643.5,1281.4 1644.2,1254.7 1644.8,1263.8 1645.5,1255.5 1646.1,1267.2 1646.8,1191.1 1647.4,1274.3 1648.1,1229.2 1648.7,1227.6 1649.4,1205.7 1650.0,1182.5 1650.7,1221.3 1651.3,1210.5 1652.0,1247.5 1652.6,1182.2 1653.3,1277.7 1653.9,1238.1 1654.6,1219.4 1655.2,1203.0 1655.9,1201.3 1656.5,1191.1 1657.2,1171.6 1657.8,1229.3 1658.5,1224.1 1659.1,1187.9 1659.8,1222.6 1660.4,1282.1 1661.1,1235.4 1661.7,1275.7 1662.4,1247.8 1663.0,1224.5 1663.7,1194.8 1664.3,1202.6 1665.0,1197.7 1665.6,1249.4 1666.3,1218.4 1666.9,1236.8 1667.6,1223.9 1668.2,1240.8 1668.9,1271.9 1669.5,1226.4 1670.2,1204.8 1670.8,1226.1 1671.5,1268.6 1672.1,1223.0 1672.8,1221.3 1673.4,1215.7 1674.1,1216.1 1674.7,1268.2 1675.4,1311.5 1676.0,1230.5 1676.7,1287.9 1677.3,1269.4 1678.0,1311.9 1678.6,1254.8 1679.3,1255.7 1679.9,1240.7 1680.6,1317.7 1681.2,1206.3 1681.9,1274.8 1682.5,1237.8 1683.2,1241.2 1683.8,1266.5 1684.5,1323.3 1685.1,1266.2 1685.8,1275.9 1686.4,1286.4 1687.1,1192.8 1687.7,1317.4 1688.4,1332.5 1689.0,1298.6 1689.7,1300.0 1690.3,1195.7 1691.0,1241.6 1691.6,1232.8 1692.3,1242.7 1692.9,1296.9 1693.6,1239.1 1694.2,1262.1 1694.9,1216.4 1695.5,1263.6 1696.2,1271.6 1696.8,1229.9 1697.5,1247.2 1698.1,1303.9 1698.8,1245.9 1699.4,1251.7 1700.1,1258.8 1700.7,1298.4 1701.4,1310.2 1702.0,1283.2 1702.7,1262.0 1703.3,1267.9 1704.0,1302.7 1704.6,1256.6 1705.3,1312.5 1705.9,1257.8 1706.6,1331.4 1707.2,1295.6 1707.9,1299.1 1708.5,1322.2 1709.2,1249.5 1709.8,1314.3 1710.5,1268.7 1711.1,1233.5 1711.8,1283.7 1712.4,1273.8 1713.1,1249.7 1713.7,1265.6 1714.4,1252.4 1715.0,1320.6 1715.7,1326.1 1716.3,1296.2 1717.0,1318.5 1717.6,1266.0 1718.3,1230.1 1718.9,1284.4 1719.6,1254.5 1720.2,1257.1 1720.9,1279.2 1721.5,1271.0 1722.2,1257.9 1722.8,1283.0 1723.5,1272.1 1724.1,1293.2 1724.8,1278.3 1725.4,1274.5 1726.1,1296.7 1726.7,1279.3 1727.4,1270.6 1728.0,1277.0 1728.7,1303.5 1729.3,1318.9 1730.0,1320.4 1730.6,1262.6 1731.3,1282.7 1731.9,1259.1 1732.6,1300.2 1733.2,1276.7 1733.9,1349.7 1734.5,1275.6 1735.2,1306.7 1735.8,1264.5 1736.5,1341.5 1737.1,1330.4 1737.8,1255.3 1738.4,1324.1 1739.1,1263.2 1739.7,1332.6 1740.4,1317.1 1741.0,1268.3 1741.7,1324.4 1742.3,1267.6 1743.0,1234.6 1743.6,1254.3 1744.3,1292.1 1744.9,1256.9 1745.6,1236.2 1746.2,1330.3 1746.9,1229.9 1747.5,1235.9 1748.2,1328.3 1748.8,1342.8 1749.5,1280.2 1750.1,1261.5 1750.8,1290.6 1751.4,1279.2 1752.1,1279.6 1752.7,1271.2 1753.4,1226.6 1754.0,1299.5 1754.7,1314.7 1755.3,1295.5 1756.0,1335.9 1756.6,1299.8 1757.3,1316.4 1757.9,1292.6 1758.6,1311.8 1759.2,1280.7 1759.9,1286.6 1760.5,1291.4 1761.2,1297.5 1761.8,1341.7 1762.5,1338.6 1763.1,1329.2 1763.8,1315.3 1764.4,1277.1 1765.1,1270.2 1765.7,1310.5 1766.4,1318.8 1767.0,1295.5 1767.7,1263.9 1768.3,1265.3 1769.0,1323.9 1769.6,1308.0 1770.3,1331.8 1770.9,1258.7 1771.6,1264.9 1772.2,1287.0 1772.9,1266.8 1773.5,1333.1 1774.2,1342.3 1774.8,1370.3 1775.5,1338.7 1776.1,1297.8 1776.8,1372.6 1777.4,1297.8 1778.1,1347.2 1778.7,1281.3 1779.4,1351.7 1780.0,1275.0 1780.7,1346.1 1781.3,1299.5 1782.0,1344.3 1782.6,1282.3" fill="none" stroke="#fe0000" stroke-width="6.4" stroke-linejoin="round" stroke-linecap="round"/>
<path d="M454.6,1354.6 L458.5,1351.7 L462.4,1348.7 L466.3,1345.7 L470.2,1342.7 L474.1,1339.6 L478.0,1336.5 L481.9,1333.3 L485.8,1330.1 L489.7,1326.8 M516.8,1303.0 L520.7,1299.4 L524.6,1295.8 L528.5,1292.1 L532.4,1288.5 L536.3,1284.7 L540.2,1281.0 L544.1,1277.2 L548.0,1273.4 L551.9,1269.5 M577.5,1243.5 L581.4,1239.4 L585.4,1235.3 L589.3,1231.2 L593.2,1227.0 L597.1,1222.8 L601.0,1218.6 L605.0,1214.4 L608.9,1210.2 M634.0,1182.6 L637.9,1178.2 L641.9,1173.8 L645.8,1169.4 L649.7,1165.0 L653.6,1160.6 L657.5,1156.2 L661.5,1151.7 L665.4,1147.3 M688.0,1121.5 L691.8,1117.2 L695.5,1112.9 L699.3,1108.6 L703.0,1104.2 L706.8,1099.9 L710.6,1095.6 L714.3,1091.3 L718.1,1087.0 M741.9,1059.7 L745.8,1055.3 L749.8,1050.8 L753.7,1046.3 L757.6,1041.9 L761.5,1037.5 L765.4,1033.0 L769.4,1028.6 L773.3,1024.2 M797.1,998.0 L801.1,993.7 L805.1,989.4 L809.1,985.2 L813.0,980.9 L817.0,976.7 L821.0,972.6 L825.0,968.4 L829.0,964.3 M855.6,938.0 L859.3,934.4 L863.1,930.9 L866.8,927.5 L870.5,924.0 L874.3,920.7 L878.0,917.3 L881.7,914.0 L885.5,910.8 L889.2,907.6 M917.6,885.0 L921.4,882.2 L925.2,879.5 L929.1,876.8 L932.9,874.2 L936.7,871.6 L940.5,869.2 L944.4,866.8 L948.2,864.4 L952.0,862.1 M981.6,847.0 L985.3,845.5 L989.1,844.0 L992.8,842.6 L996.5,841.2 L1000.2,840.0 L1004.0,838.8 L1007.7,837.7 L1011.4,836.7 L1015.2,835.8 L1018.9,834.9 M1047.8,831.4 L1051.6,831.3 L1055.3,831.3 L1059.1,831.3 L1062.8,831.5 L1066.6,831.7 L1070.4,832.0 L1074.1,832.5 L1077.9,832.9 L1081.6,833.5 L1085.4,834.1 M1115.5,842.1 L1119.4,843.5 L1123.3,844.9 L1127.2,846.5 L1131.1,848.1 L1135.0,849.8 L1138.8,851.6 L1142.7,853.4 L1146.6,855.3 L1150.5,857.3 L1154.4,859.4 M1180.8,875.4 L1184.6,877.9 L1188.3,880.5 L1192.1,883.2 L1195.8,885.9 L1199.6,888.7 L1203.4,891.5 L1207.1,894.4 L1210.9,897.3 L1214.6,900.3 L1218.4,903.3 M1243.5,924.4 L1247.3,927.7 L1251.0,931.0 L1254.8,934.4 L1258.5,937.8 L1262.3,941.2 L1266.1,944.7 L1269.8,948.2 L1273.6,951.9 L1277.3,955.5 L1281.1,959.3 M1303.7,983.2 L1307.3,987.2 L1310.9,991.2 L1314.6,995.2 L1318.2,999.2 L1321.8,1003.3 L1325.4,1007.3 L1329.1,1011.4 L1332.7,1015.5 L1336.3,1019.6 M1360.2,1046.8 L1364.1,1051.4 L1368.0,1055.9 L1371.9,1060.4 L1375.8,1064.9 L1379.8,1069.4 L1383.7,1074.0 L1387.6,1078.5 L1391.5,1083.1 M1414.4,1109.6 L1418.3,1114.1 L1422.1,1118.5 L1426.0,1123.0 L1429.8,1127.4 L1433.7,1131.9 L1437.6,1136.3 L1441.4,1140.7 L1445.3,1145.1 M1467.1,1169.7 L1470.8,1173.9 L1474.5,1178.0 L1478.2,1182.1 L1481.9,1186.1 L1485.5,1190.2 L1489.2,1194.2 L1492.9,1198.3 L1496.6,1202.3 L1500.3,1206.3 M1525.5,1233.0 L1529.4,1237.1 L1533.4,1241.1 L1537.3,1245.2 L1541.2,1249.2 L1545.1,1253.2 L1549.1,1257.1 L1553.0,1261.0" fill="none" stroke="#0000d4" stroke-width="10" stroke-linejoin="round" stroke-linecap="round"/>
<path d="M467.1,1517.4 L469.6,1514.9 L472.1,1512.3 L474.6,1509.7 L477.1,1507.1 L479.6,1504.4 L482.1,1501.8 L484.6,1499.0 L487.1,1496.3 L489.6,1493.5 L492.1,1490.6 L494.6,1487.7 L497.1,1484.7 L499.6,1481.7 L502.1,1478.7 L504.6,1475.5 L507.1,1472.3 L509.6,1469.1 L512.1,1465.7 L514.6,1462.3 L517.1,1458.8 L519.6,1455.2 L522.1,1451.6 L524.6,1447.8 L527.1,1444.0 L529.6,1440.1 L532.1,1436.1 L534.6,1432.0 L537.1,1427.7 L539.6,1423.4 L542.1,1419.0 L544.6,1414.4 L547.1,1409.8 L549.6,1405.0 L552.1,1400.1 L554.6,1395.1 L557.1,1390.0 L559.6,1384.7 L562.1,1379.3 L564.6,1373.8 L567.1,1368.1 L569.6,1362.3 L572.1,1356.4 L574.6,1350.4 L577.1,1344.3 L579.6,1338.0 L582.1,1331.7 L584.6,1325.3 L587.1,1318.7 L589.6,1312.1 L592.1,1305.4 L594.6,1298.7 L597.1,1291.8 L599.6,1284.9 L602.1,1277.9 L604.6,1270.9 L607.1,1263.8 L609.6,1256.7 L612.0,1249.5 L614.5,1242.2 L617.0,1235.0 L619.5,1227.7 L622.0,1220.4 L624.5,1213.0 L627.0,1205.6 L629.5,1198.2 L632.0,1190.8 L634.5,1183.4 L637.0,1176.0 L639.5,1168.6 L642.0,1161.2 L644.5,1153.9 L647.0,1146.5 L649.5,1139.1 L652.0,1131.8 L654.5,1124.5 L657.0,1117.3 L659.5,1110.0 L662.0,1102.9 L664.5,1095.7 L667.0,1088.6 L669.5,1081.6 L672.0,1074.7 L674.5,1067.8 L677.0,1060.9 L679.5,1054.2 L682.0,1047.5 L684.5,1040.9 L687.0,1034.4 L689.5,1028.0 L692.0,1021.6 L694.5,1015.4 L697.0,1009.3 L699.5,1003.2 L702.0,997.3 L704.5,991.5 L707.0,985.8 L709.5,980.2 L712.0,974.7 L714.5,969.3 L717.0,964.0 L719.5,958.8 L722.0,953.8 L724.5,948.8 L727.0,944.0 L729.5,939.3 L732.0,934.7 L734.5,930.3 L737.0,926.0 L739.5,921.7 L742.0,917.7 L744.5,913.7 L747.0,909.9 L749.5,906.2 L752.0,902.6 L754.5,899.2 L757.0,895.9 L759.5,892.7 L762.0,889.6 L764.5,886.7 L767.0,883.8 L769.5,881.1 L772.0,878.5 L774.5,876.0 L777.0,873.6 L779.5,871.3 L782.0,869.1 L784.5,867.0 L787.0,865.0 L789.5,863.1 L792.0,861.2 L794.5,859.5 L797.0,857.8 L799.5,856.2 L802.0,854.7 L804.5,853.2 L807.0,851.8 L809.5,850.5 L812.0,849.2 L814.5,848.0 L817.0,846.8 L819.5,845.7 L822.0,844.7 L824.5,843.6 L827.0,842.7 L829.5,841.7 L832.0,840.8 L834.5,840.0 L837.0,839.1 L839.5,838.3 L842.0,837.5 L844.5,836.8 L847.0,836.0 L849.5,835.3 L852.0,834.6 L854.5,833.8 L857.0,833.1 L859.5,832.4 L862.0,831.7 L864.5,831.0 L867.0,830.3 L869.5,829.7 L872.0,829.0 L874.5,828.4 L877.0,827.8 L879.5,827.2 L882.0,826.6 L884.5,826.0 L887.0,825.5 L889.5,825.0 L892.0,824.6 L894.5,824.2 L897.0,823.8 L899.4,823.4 L901.9,823.1 L904.4,822.8 L906.9,822.6 L909.4,822.5 L911.9,822.3 L914.4,822.3 L916.9,822.3 L919.4,822.3 L921.9,822.4 L924.4,822.6 L926.9,822.8 L929.4,823.1 L931.9,823.4 L934.4,823.9 L936.9,824.4 L939.4,824.9 L941.9,825.6 L944.4,826.3 L946.9,827.1 L949.4,828.0 L951.9,829.0 L954.4,830.1 L956.9,831.2 L959.4,832.5 L961.9,833.8 L964.4,835.2 L966.9,836.8 L969.4,838.4 L971.9,840.1 L974.4,841.9 L976.9,843.9 L979.4,845.9 L981.9,847.9 L984.4,850.1 L986.9,852.3 L989.4,854.6 L991.9,857.0 L994.4,859.4 L996.9,861.9 L999.4,864.4 L1001.9,867.1 L1004.4,869.7 L1006.9,872.4 L1009.4,875.1 L1011.9,877.9 L1014.4,880.7 L1016.9,883.6 L1019.4,886.5 L1021.9,889.4 L1024.4,892.3 L1026.9,895.2 L1029.4,898.1 L1031.9,901.0 L1034.4,903.9 L1036.9,906.8 L1039.4,909.7 L1041.9,912.5 L1044.4,915.3 L1046.9,918.0 L1049.4,920.7 L1051.9,923.3 L1054.4,925.8 L1056.9,928.3 L1059.4,930.7 L1061.9,933.0 L1064.4,935.2 L1066.9,937.3 L1069.4,939.4 L1071.9,941.3 L1074.4,943.2 L1076.9,945.0 L1079.4,946.7 L1081.9,948.3 L1084.4,949.8 L1086.9,951.2 L1089.4,952.5 L1091.9,953.8 L1094.4,954.9 L1096.9,955.9 L1099.4,956.8 L1101.9,957.6 L1104.4,958.3 L1106.9,958.9 L1109.4,959.4 L1111.9,959.8 L1114.4,960.1 L1116.9,960.3 L1119.4,960.3 L1121.9,960.3 L1124.4,960.1 L1126.9,959.8 L1129.4,959.5 L1131.9,959.0 L1134.4,958.4 L1136.9,957.8 L1139.4,957.1 L1141.9,956.3 L1144.4,955.5 L1146.9,954.6 L1149.4,953.7 L1151.9,952.7 L1154.4,951.7 L1156.9,950.6 L1159.4,949.5 L1161.9,948.5 L1164.4,947.4 L1166.9,946.2 L1169.4,945.1 L1171.9,944.0 L1174.4,942.9 L1176.9,941.9 L1179.4,940.8 L1181.9,939.8 L1184.3,938.8 L1186.8,937.9 L1189.3,937.0 L1191.8,936.2 L1194.3,935.4 L1196.8,934.7 L1199.3,934.1 L1201.8,933.6 L1204.3,933.1 L1206.8,932.8 L1209.3,932.5 L1211.8,932.3 L1214.3,932.2 L1216.8,932.2 L1219.3,932.3 L1221.8,932.4 L1224.3,932.7 L1226.8,933.1 L1229.3,933.5 L1231.8,934.1 L1234.3,934.7 L1236.8,935.5 L1239.3,936.3 L1241.8,937.3 L1244.3,938.3 L1246.8,939.5 L1249.3,940.8 L1251.8,942.1 L1254.3,943.6 L1256.8,945.2 L1259.3,946.9 L1261.8,948.7 L1264.3,950.6 L1266.8,952.6 L1269.3,954.8 L1271.8,957.0 L1274.3,959.4 L1276.8,961.9 L1279.3,964.5 L1281.8,967.2 L1284.3,970.0 L1286.8,972.9 L1289.3,975.9 L1291.8,979.0 L1294.3,982.2 L1296.8,985.5 L1299.3,988.8 L1301.8,992.2 L1304.3,995.6 L1306.8,999.1 L1309.3,1002.7 L1311.8,1006.2 L1314.3,1009.9 L1316.8,1013.5 L1319.3,1017.2 L1321.8,1020.9 L1324.3,1024.6 L1326.8,1028.3 L1329.3,1032.0 L1331.8,1035.7 L1334.3,1039.4 L1336.8,1043.1 L1339.3,1046.8 L1341.8,1050.4 L1344.3,1054.0 L1346.8,1057.6 L1349.3,1061.1 L1351.8,1064.5 L1354.3,1067.9 L1356.8,1071.3 L1359.3,1074.6 L1361.8,1077.8 L1364.3,1080.9 L1366.8,1084.0 L1369.3,1086.9 L1371.8,1089.8 L1374.3,1092.6 L1376.8,1095.3 L1379.3,1098.0 L1381.8,1100.5 L1384.3,1102.9 L1386.8,1105.2 L1389.3,1107.4 L1391.8,1109.5 L1394.3,1111.5 L1396.8,1113.4 L1399.3,1115.1 L1401.8,1116.8 L1404.3,1118.3 L1406.8,1119.6 L1409.3,1120.8 L1411.8,1121.9 L1414.3,1122.8 L1416.8,1123.6 L1419.3,1124.2 L1421.8,1124.7 L1424.3,1125.0 L1426.8,1125.1 L1429.3,1125.2 L1431.8,1125.1 L1434.3,1124.9 L1436.8,1124.6 L1439.3,1124.2 L1441.8,1123.7 L1444.3,1123.1 L1446.8,1122.4 L1449.3,1121.6 L1451.8,1120.8 L1454.3,1119.9 L1456.8,1119.0 L1459.3,1118.0 L1461.8,1117.0 L1464.3,1116.0 L1466.8,1114.9 L1469.3,1113.8 L1471.7,1112.7 L1474.2,1111.6 L1476.7,1110.5 L1479.2,1109.4 L1481.7,1108.3 L1484.2,1107.2 L1486.7,1106.2 L1489.2,1105.2 L1491.7,1104.2 L1494.2,1103.4 L1496.7,1102.5 L1499.2,1101.7 L1501.7,1101.1 L1504.2,1100.4 L1506.7,1099.9 L1509.2,1099.5 L1511.7,1099.1 L1514.2,1098.9 L1516.7,1098.8 L1519.2,1098.8 L1521.7,1099.0 L1524.2,1099.2 L1526.7,1099.7 L1529.2,1100.2 L1531.7,1101.0 L1534.2,1101.9 L1536.7,1102.9 L1539.2,1104.2 L1541.7,1105.6 L1544.2,1107.2 L1546.7,1109.0 L1549.2,1111.1 L1551.7,1113.3 L1554.2,1115.8 L1556.7,1118.5 L1559.2,1121.4 L1561.7,1124.7 L1564.2,1128.1 L1566.7,1131.9 L1569.2,1136.0 L1571.7,1140.5 L1574.2,1145.2 L1576.7,1150.3 L1579.2,1155.8 L1581.7,1161.7 L1584.2,1167.9 L1586.7,1174.6 L1589.2,1181.7 L1591.7,1189.2 L1594.2,1197.2 L1596.7,1205.7 L1599.2,1214.7 L1601.7,1224.1 L1604.2,1234.1 L1606.7,1244.6 L1609.2,1255.6 L1611.7,1267.2 L1614.2,1279.4" fill="none" stroke="#008000" stroke-width="10" stroke-linejoin="round" stroke-linecap="round"/>
<g fill="#000">
<rect x="238.6" y="70.9" width="8.4" height="1545.1"/>
<rect x="1778.9" y="70.9" width="8.4" height="1545.1"/>
<rect x="238.6" y="1607.3" width="1548.7" height="8.7"/>
<rect x="272" y="70.9" width="1498" height="8.3"/>
<rect x="247" y="1352.3" width="24.6" height="6.2"/>
<rect x="1754.4" y="1352.3" width="24.6" height="6.2"/>
<rect x="247" y="1096.2" width="24.6" height="6.2"/>
<rect x="1754.4" y="1096.2" width="24.6" height="6.2"/>
<rect x="247" y="840.1" width="24.6" height="6.2"/>
<rect x="1754.4" y="840.1" width="24.6" height="6.2"/>
<rect x="247" y="584.0" width="24.6" height="6.2"/>
<rect x="1754.4" y="584.0" width="24.6" height="6.2"/>
<rect x="247" y="327.9" width="24.6" height="6.2"/>
<rect x="1754.4" y="327.9" width="24.6" height="6.2"/>
<rect x="247" y="71.8" width="24.6" height="6.2"/>
<rect x="1754.4" y="71.8" width="24.6" height="6.2"/>
<rect x="459.85" y="1582.7" width="6.3" height="25"/>
<rect x="679.85" y="1582.7" width="6.3" height="25"/>
<rect x="899.85" y="1582.7" width="6.3" height="25"/>
<rect x="1119.85" y="1582.7" width="6.3" height="25"/>
<rect x="1339.85" y="1582.7" width="6.3" height="25"/>
<rect x="1559.85" y="1582.7" width="6.3" height="25"/>
</g>
<g>
<text id="y0" transform="translate(204.80,1629.10) scale(0.975,1)" font-size="72.5" text-anchor="end" fill="#000">0</text>
<text id="y5" transform="translate(204.80,1373.00) scale(0.975,1)" font-size="72.5" text-anchor="end" fill="#000">5</text>
<text id="y10" transform="translate(204.80,1116.90) scale(0.975,1)" font-size="72.5" text-anchor="end" fill="#000">10</text>
<text id="y15" transform="translate(204.80,860.80) scale(0.975,1)" font-size="72.5" text-anchor="end" fill="#000">15</text>
<text id="y20" transform="translate(204.80,604.70) scale(0.975,1)" font-size="72.5" text-anchor="end" fill="#000">20</text>
<text id="y25" transform="translate(204.80,348.60) scale(0.975,1)" font-size="72.5" text-anchor="end" fill="#000">25</text>
<text id="y30" transform="translate(204.80,92.50) scale(0.975,1)" font-size="72.5" text-anchor="end" fill="#000">30</text>
<text id="x0" transform="translate(243.00,1697.80) scale(0.975,1)" font-size="72.5" text-anchor="middle" fill="#000">0</text>
<text id="x10" transform="translate(463.00,1697.80) scale(0.975,1)" font-size="72.5" text-anchor="middle" fill="#000">10</text>
<text id="x20" transform="translate(683.00,1697.80) scale(0.975,1)" font-size="72.5" text-anchor="middle" fill="#000">20</text>
<text id="x30" transform="translate(903.00,1697.80) scale(0.975,1)" font-size="72.5" text-anchor="middle" fill="#000">30</text>
<text id="x40" transform="translate(1123.00,1697.80) scale(0.975,1)" font-size="72.5" text-anchor="middle" fill="#000">40</text>
<text id="x50" transform="translate(1343.00,1697.80) scale(0.975,1)" font-size="72.5" text-anchor="middle" fill="#000">50</text>
<text id="x60" transform="translate(1563.00,1697.80) scale(0.975,1)" font-size="72.5" text-anchor="middle" fill="#000">60</text>
<text id="x70" transform="translate(1783.00,1697.80) scale(0.975,1)" font-size="72.5" text-anchor="middle" fill="#000">70</text>
</g>
<text id="xl" transform="translate(1012.80,1791.00) scale(0.975,1)" font-size="70.5" text-anchor="middle" fill="#000">time (hours)</text>
<text id="yl" transform="translate(77.00,818.30) rotate(-90) scale(0.948,1)" font-size="72.5" text-anchor="middle" fill="#000">counts/sec</text>
<rect x="1024.0" y="250.6" width="634.5" height="245.8" fill="#fff" stroke="#000" stroke-width="4.6"/>
<rect x="1064" y="304.2" width="146" height="6.7" fill="#fe0000"/>
<rect x="1064" y="370.9" width="39.0" height="10.4" fill="#0000d4"/>
<rect x="1132.7" y="370.9" width="38.6" height="10.4" fill="#0000d4"/>
<rect x="1200.9" y="370.9" width="9.1" height="10.4" fill="#0000d4"/>
<rect x="1064" y="438.9" width="146" height="10.6" fill="#008000"/>
<text id="l1" transform="translate(1227.00,329.00) scale(0.9697,1)" font-size="59.0" text-anchor="start" fill="#fe0000">experimental data</text>
<text id="l2" transform="translate(1227.00,397.40) scale(0.9697,1)" font-size="59.0" text-anchor="start" fill="#0000d4">J=1 - range 10-60</text>
<text id="l3" transform="translate(1227.00,466.00) scale(0.9697,1)" font-size="59.0" text-anchor="start" fill="#008000">J=5 - range 10-60</text>
</svg></body></html>
